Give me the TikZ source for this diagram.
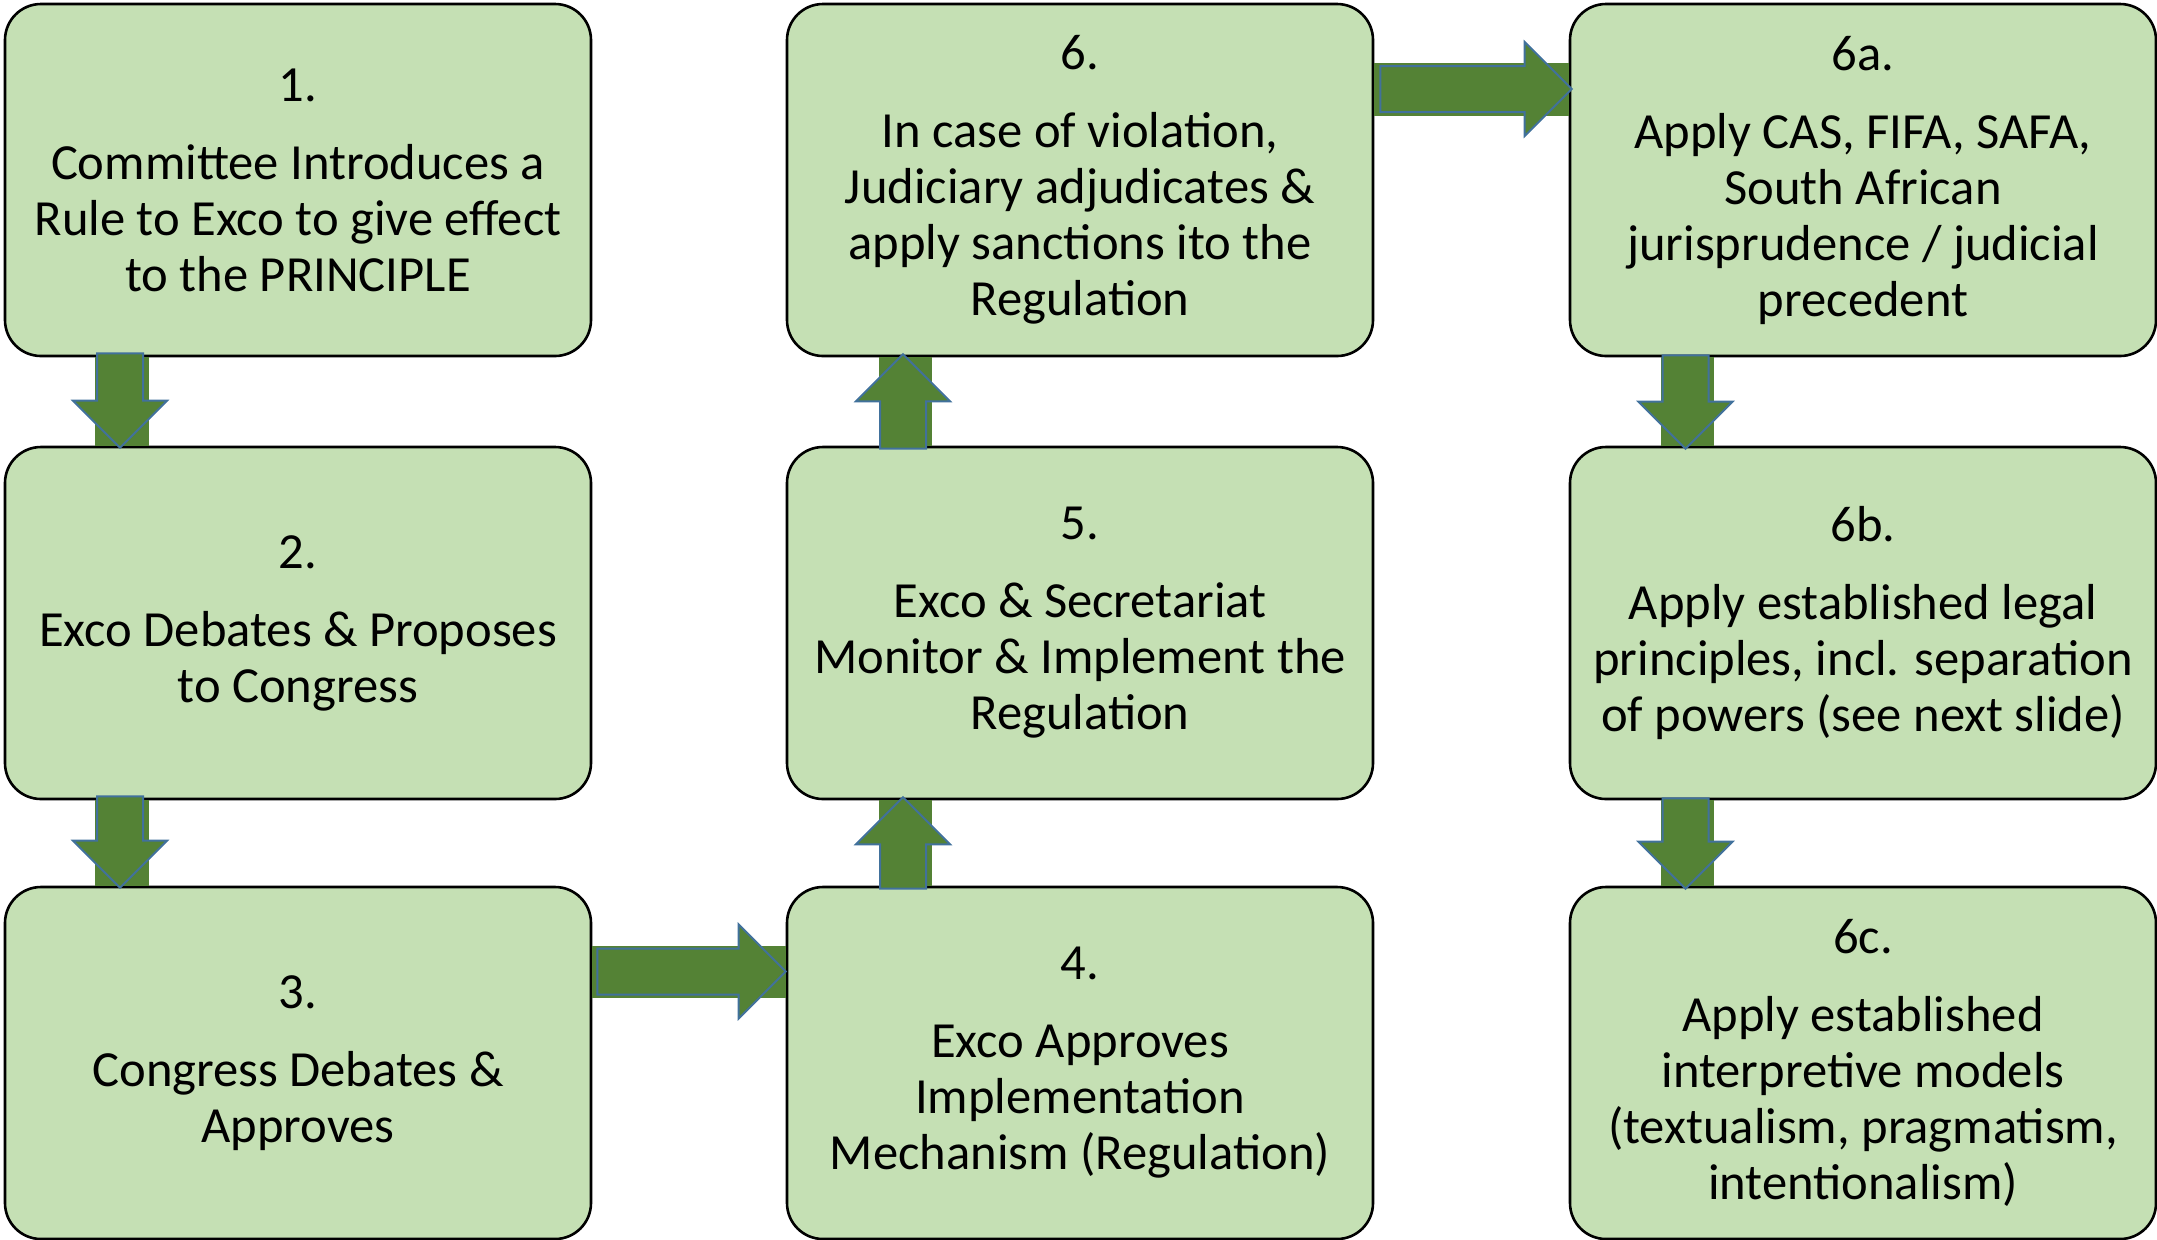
\documentclass[tikz,border=0pt]{standalone}
\usepackage{fontspec}
\setmainfont{Carlito}
\usetikzlibrary{calc}
\definecolor{boxfill}{HTML}{C5E0B4}
\definecolor{arrgreen}{HTML}{548235}
\definecolor{arrblue}{HTML}{41719C}
\tikzset{
  box/.style={draw=black, line width=1.3pt, fill=boxfill, rounded corners=18pt,
    minimum width=293pt, minimum height=176pt, inner sep=0pt, align=center,
    font=\fontsize{25.3}{28}\selectfont},
  blockarrow/.style={fill=arrgreen, draw=arrblue, line width=1pt, line join=miter},
  arrback/.style={fill=arrgreen}
}
\newcommand\blockarr[2]{%
  \path let \p1=(#1), \p2=(#2), \n1={veclen(\x2-\x1,\y2-\y1)}, \n2={atan2(\y2-\y1,\x2-\x1)} in
    \pgfextra{\xdef\barlen{\n1}\xdef\barang{\n2}\xdef\barx{\x1}\xdef\bary{\y1}};
  \begin{scope}[shift={(\barx,\bary)}, rotate=\barang, x=1pt, y=1pt]
    \filldraw[blockarrow] (0,-11.5) -- (\barlen-23.5,-11.5) -- (\barlen-23.5,-23.5)
      -- (\barlen,0) -- (\barlen-23.5,23.5) -- (\barlen-23.5,11.5) -- (0,11.5) -- cycle;
  \end{scope}}
\begin{document}
\begin{tikzpicture}[x=0.5pt, y=-0.5pt]
\useasboundingbox (0,0) rectangle (2157,1239);
% boxes
\node[box] (b1) at (298,180) {1.\\[11pt]Committee Introduces a\\Rule to Exco to give effect\\to the PRINCIPLE};
\node[box] (b2) at (298,623) {2.\\[11pt]Exco Debates \& Proposes\\to Congress};
\node[box] (b3) at (298,1063) {3.\\[11pt]Congress Debates \&\\Approves};
\node[box] (b4) at (1080,1063) {4.\\[11pt]Exco Approves\\Implementation\\Mechanism (Regulation)};
\node[box] (b5) at (1080,623) {5.\\[11pt]Exco \& Secretariat\\Monitor \& Implement the\\Regulation};
\node[box] (b6) at (1080,180) {6.\\[11pt]In case of violation,\\Judiciary adjudicates \&\\apply sanctions ito the\\Regulation};
\node[box] (b6a) at (1863,180) {6a.\\[11pt]Apply CAS, FIFA, SAFA,\\South African\\jurisprudence / judicial\\precedent};
\node[box] (b6b) at (1863,623) {6b.\\[11pt]Apply established legal\\principles, incl. separation\\of powers (see next slide)};
\node[box] (b6c) at (1863,1063) {6c.\\[11pt]Apply established\\interpretive models\\(textualism, pragmatism,\\intentionalism)};
% connectors: 1 -> 2 -> 3
\fill[arrback] ($(b1.south)+(-203,0)$) rectangle ($(b2.north)+(-149,0)$);
\blockarr{$(b1.south)+(-178,-4)$}{$(b2.north)+(-178,2)$}
\fill[arrback] ($(b2.south)+(-203,0)$) rectangle ($(b3.north)+(-149,0)$);
\blockarr{$(b2.south)+(-178,-4)$}{$(b3.north)+(-178,2)$}
% 3 -> 4
\fill[arrback] ($(b3.east)+(0,-117)$) rectangle ($(b4.west)+(0,-65)$);
\blockarr{$(b3.east)+(5,-91.5)$}{$(b4.west)+(0,-91.5)$}
% 4 -> 5 -> 6
\fill[arrback] ($(b4.north)+(-201,0)$) rectangle ($(b5.south)+(-148,0)$);
\blockarr{$(b4.north)+(-177,3)$}{$(b5.south)+(-177,-3)$}
\fill[arrback] ($(b5.north)+(-201,0)$) rectangle ($(b6.south)+(-148,0)$);
\blockarr{$(b5.north)+(-177,3)$}{$(b6.south)+(-177,-3)$}
% 6 -> 6a
\fill[arrback] ($(b6.east)+(0,-117)$) rectangle ($(b6a.west)+(0,-64)$);
\blockarr{$(b6.east)+(6,-91)$}{$(b6a.west)+(3,-91)$}
% 6a -> 6b -> 6c
\fill[arrback] ($(b6a.south)+(-202,0)$) rectangle ($(b6b.north)+(-149,0)$);
\blockarr{$(b6a.south)+(-177.5,-2)$}{$(b6b.north)+(-177.5,3)$}
\fill[arrback] ($(b6b.south)+(-202,0)$) rectangle ($(b6c.north)+(-149,0)$);
\blockarr{$(b6b.south)+(-177.5,-2)$}{$(b6c.north)+(-177.5,3)$}
\end{tikzpicture}
\end{document}
